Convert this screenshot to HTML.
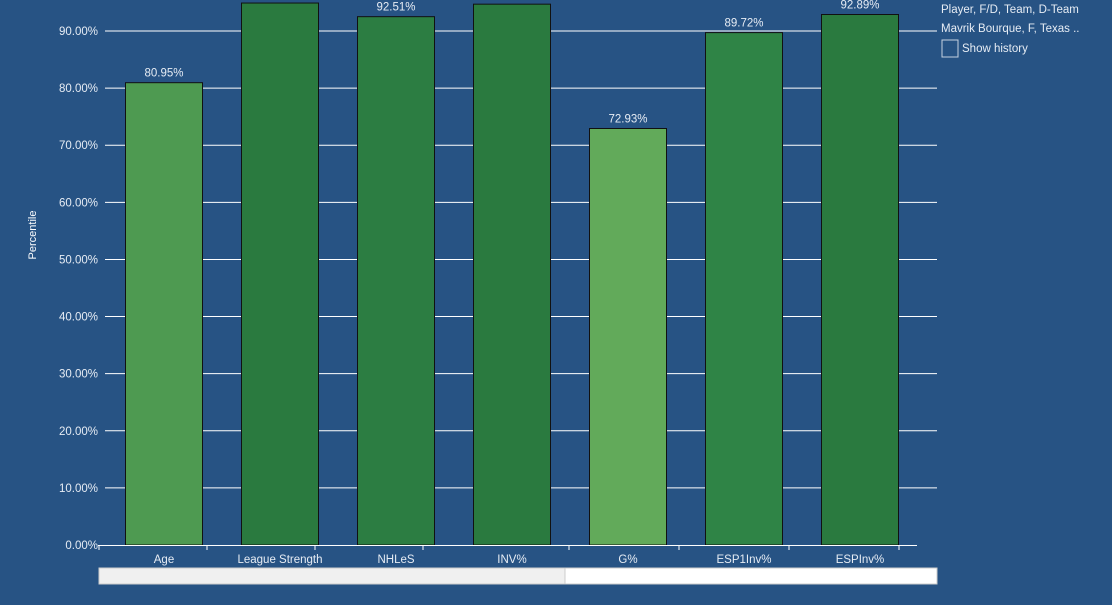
<!DOCTYPE html>
<html><head><meta charset="utf-8"><style>
body{margin:0;background:#275384;width:1112px;height:600px;overflow:hidden;font-family:"Liberation Sans",sans-serif}
svg text{font-family:"Liberation Sans",sans-serif}
</style></head><body>
<svg id="c" width="1112" height="600">
<g id="grid"></g><g id="bars"></g><g id="axes"></g>
<text x="36" y="235" fill="#fff" font-size="11" text-anchor="middle" transform="rotate(-90 36 235)">Percentile</text>
<rect x="99" y="568" width="466" height="16" fill="#f0f0f0" stroke="#ccc"/>
<rect x="565" y="568" width="372" height="16" fill="#fff" stroke="#ccc"/>
<text x="941" y="13" fill="#e6ecf4" font-size="11.5">Player, F/D, Team, D-Team</text>
<line x1="920" y1="31" x2="936" y2="31" stroke="#fff"/>
<text x="941" y="32" fill="#e6ecf4" font-size="11.5">Mavrik Bourque, F, Texas ..</text>
<rect x="942" y="40" width="16" height="17" fill="none" stroke="#c6d2e0"/>
<text x="962" y="52" fill="#e6ecf4" font-size="11.5">Show history</text>
</svg>
<script>
const categories=["Age","League Strength","NHLeS","INV%","G%","ESP1Inv%","ESPInv%"];
const values=[80.95,94.9,92.51,94.7,72.93,89.72,92.89];
const labels=["80.95%","","92.51%","","72.93%","89.72%","92.89%"];
const colors=["#4e9a51","#2a7a3f","#2c7d42","#2a7a3f","#62aa5a","#2f8446","#2a7a3f"];
const yTicks=[0,10,20,30,40,50,60,70,80,90];
const NS="http://www.w3.org/2000/svg";
const y=v=>545-v*5.711;
const x=i=>125+i*116;
function mk(t,a,p){const e=document.createElementNS(NS,t);for(const k in a)e.setAttribute(k,a[k]);p.appendChild(e);return e;}
const grid=document.getElementById('grid'),bars=document.getElementById('bars'),axes=document.getElementById('axes');
yTicks.forEach(v=>{
 if(v>0){const l=mk('line',{x1:105,x2:937,y1:y(v),y2:y(v),stroke:'#fff','stroke-width':1},grid);
 
 }
 const t=mk('text',{x:98,y:y(v)+4,fill:'#e6ecf4','font-size':11.5,'text-anchor':'end'},axes);t.textContent=v.toFixed(2)+'%';
 
 
});
categories.forEach((c,i)=>{
 const r=mk('rect',{x:x(i)+0.5,y:y(values[i]),width:77,height:545-y(values[i]),fill:colors[i],stroke:'#111','stroke-width':1},bars);
 
 
 if(labels[i]){const t=mk('text',{x:x(i)+39,y:y(values[i])-6,fill:'#e6ecf4','font-size':11.5,'text-anchor':'middle'},bars);t.textContent=labels[i];
 
 }
 const t=mk('text',{x:x(i)+39,y:563,fill:'#e6ecf4','font-size':11.5,'text-anchor':'middle'},axes);t.textContent=c;
 
 
});
const ax=mk('line',{x1:98,x2:917,y1:545.5,y2:545.5,stroke:'#fff'},axes);


[99,207,315,423,569,679,789,899].forEach(tx=>{const l=mk('line',{x1:tx,x2:tx,y1:545,y2:550,stroke:'#fff'},axes);
 
 });
</script>
</body></html>
